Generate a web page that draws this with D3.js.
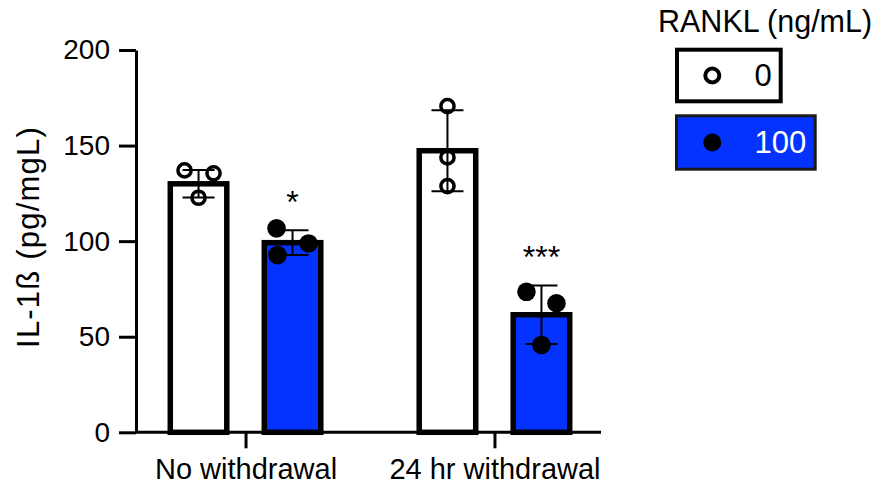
<!DOCTYPE html>
<html>
<head>
<meta charset="utf-8">
<script src="https://cdn.jsdelivr.net/npm/d3@7/dist/d3.min.js"></script>
<style>
  html, body { margin: 0; padding: 0; background: #fff; }
  svg { display: block; }
  text { font-family: "Liberation Sans", Arial, Helvetica, sans-serif; fill: #000; }
</style>
</head>
<body>
<svg id="chart" width="876" height="486"></svg>
<script>
// IL-1ß per group, with and without RANKL
const groups = ["No withdrawal", "24 hr withdrawal"];
const doses = ["0", "100"];
const yTicks = [0, 50, 100, 150, 200];

const mean0 = [130, 147.3];
const sd0 = [7.2, 21.2];
const points0 = [[137, 135.5, 122.7], [170.6, 143.8, 128.8]];

const mean100 = [99.2, 61.5];
const sd100 = [6.5, 15.3];
const points100 = [[106.7, 98.8, 92.7], [73.5, 67.5, 45.7]];

const stars100 = ["*", "***"];

// layout
const W = 876, H = 486;
const axisX = 136, axisRight = 601;
const barW = 56.5;
const blue = "#0433ff";
// horizontal scatter of replicate dots within each bar
const jitter0 = [[-14, 15, 0], [0, 0, 0]];
const jitter100 = [[-16, 16, -15], [-15, 15, 0]];

const svg = d3.select("#chart");

const y = d3.scaleLinear().domain([0, 200]).range([432.3, 50]);
const x = d3.scalePoint().domain(groups).range([139, axisRight]).padding(0.428);
const xs = d3.scalePoint().domain(doses).range([-47, 47]);

const series = [
  { dose: "0", mean: mean0, sd: sd0, pts: points0, jit: jitter0, fill: "#fff", stars: null },
  { dose: "100", mean: mean100, sd: sd100, pts: points100, jit: jitter100, fill: blue, stars: stars100 }
];

const rows = [];
series.forEach(s => groups.forEach((g, i) => rows.push({
  group: g, dose: s.dose, mean: s.mean[i], sd: s.sd[i], pts: s.pts[i], jit: s.jit[i],
  fill: s.fill, star: s.stars ? s.stars[i] : null
})));

const cx = d => x(d.group) + xs(d.dose);

// bars
svg.append("g").selectAll("rect").data(rows).join("rect")
  .attr("x", d => cx(d) - barW / 2)
  .attr("width", barW)
  .attr("y", d => y(d.mean))
  .attr("height", d => y(0) - y(d.mean))
  .attr("fill", d => d.fill)
  .attr("stroke", "#000")
  .attr("stroke-width", 5.5);

// replicate dots
const dotG = svg.append("g");
rows.forEach(d => {
  dotG.selectAll(null).data(d.pts).join("circle")
    .attr("cx", (v, j) => cx(d) + d.jit[j])
    .attr("cy", v => y(v))
    .attr("r", d.dose === "0" ? 6.6 : 9.3)
    .attr("fill", d.dose === "0" ? "none" : "#000")
    .attr("stroke", d.dose === "0" ? "#000" : "none")
    .attr("stroke-width", 3.5);
});

// mean ± SD
const errG = svg.append("g").attr("stroke", "#000").attr("stroke-width", 2);
rows.forEach(d => {
  const c = cx(d);
  errG.append("line").attr("x1", c).attr("x2", c)
    .attr("y1", y(d.mean - d.sd)).attr("y2", y(d.mean + d.sd));
  [d.mean - d.sd, d.mean + d.sd].forEach(v => {
    errG.append("line").attr("x1", c - 16).attr("x2", c + 16)
      .attr("y1", y(v)).attr("y2", y(v));
  });
});

// significance marks
svg.append("g").selectAll("text").data(rows.filter(d => d.star)).join("text")
  .attr("x", d => cx(d))
  .attr("y", d => y(d.mean + d.sd) - 17)
  .attr("text-anchor", "middle")
  .attr("font-size", 32)
  .text(d => d.star);

// y axis
const yAxis = svg.append("g")
  .attr("transform", `translate(${axisX},0)`)
  .call(d3.axisLeft(y).tickValues(yTicks).tickSize(17).tickPadding(9).tickSizeOuter(0));
yAxis.attr("font-size", null).attr("font-family", null);
yAxis.selectAll("path, line").attr("stroke", "#000").attr("stroke-width", 3);
yAxis.selectAll("text").attr("font-size", 28);

// x axis
const xAxis = svg.append("g")
  .attr("transform", `translate(0,${y(0)})`)
  .call(d3.axisBottom(x).tickSize(16).tickPadding(10));
xAxis.attr("font-size", null).attr("font-family", null);
xAxis.select(".domain").remove();
xAxis.selectAll("line").attr("stroke", "#000").attr("stroke-width", 3);
xAxis.selectAll("text").attr("font-size", 29);
xAxis.append("line")
  .attr("x1", axisX).attr("x2", axisRight)
  .attr("stroke", "#000").attr("stroke-width", 3);

// y title
svg.append("text")
  .attr("transform", `translate(39,237) rotate(-90)`)
  .attr("text-anchor", "middle")
  .attr("font-size", 31)
  .attr("letter-spacing", 1.2)
  .text("IL-1ß (pg/mgL)");

// legend
const legend = svg.append("g");
legend.append("text").attr("x", 658).attr("y", 32).attr("font-size", 30.5).text("RANKL (ng/mL)");

const legendItems = [
  { label: doses[0], fill: "#fff", stroke: "#000", sw: 4, box: [677, 49.7, 103.7, 51.6], text: "#000" },
  { label: doses[1], fill: blue, stroke: "#1a1a1a", sw: 3, box: [676.5, 115.8, 138.7, 53.4], text: "#fff" }
];
legendItems.forEach((it, i) => {
  const [bx, by, bw, bh] = it.box;
  legend.append("rect").attr("x", bx).attr("y", by).attr("width", bw).attr("height", bh)
    .attr("fill", it.fill).attr("stroke", it.stroke).attr("stroke-width", it.sw);
  const my = by + bh / 2;
  if (i === 0) {
    legend.append("circle").attr("cx", 712.3).attr("cy", my).attr("r", 7)
      .attr("fill", "none").attr("stroke", "#000").attr("stroke-width", 4);
  } else {
    legend.append("circle").attr("cx", 712.3).attr("cy", my).attr("r", 9).attr("fill", "#000");
  }
  legend.append("text")
    .attr("x", bx + bw - 9)
    .attr("y", my + 10.5)
    .attr("text-anchor", "end")
    .attr("font-size", 31)
    .style("fill", it.text)
    .text(it.label);
});
</script>
</body>
</html>
